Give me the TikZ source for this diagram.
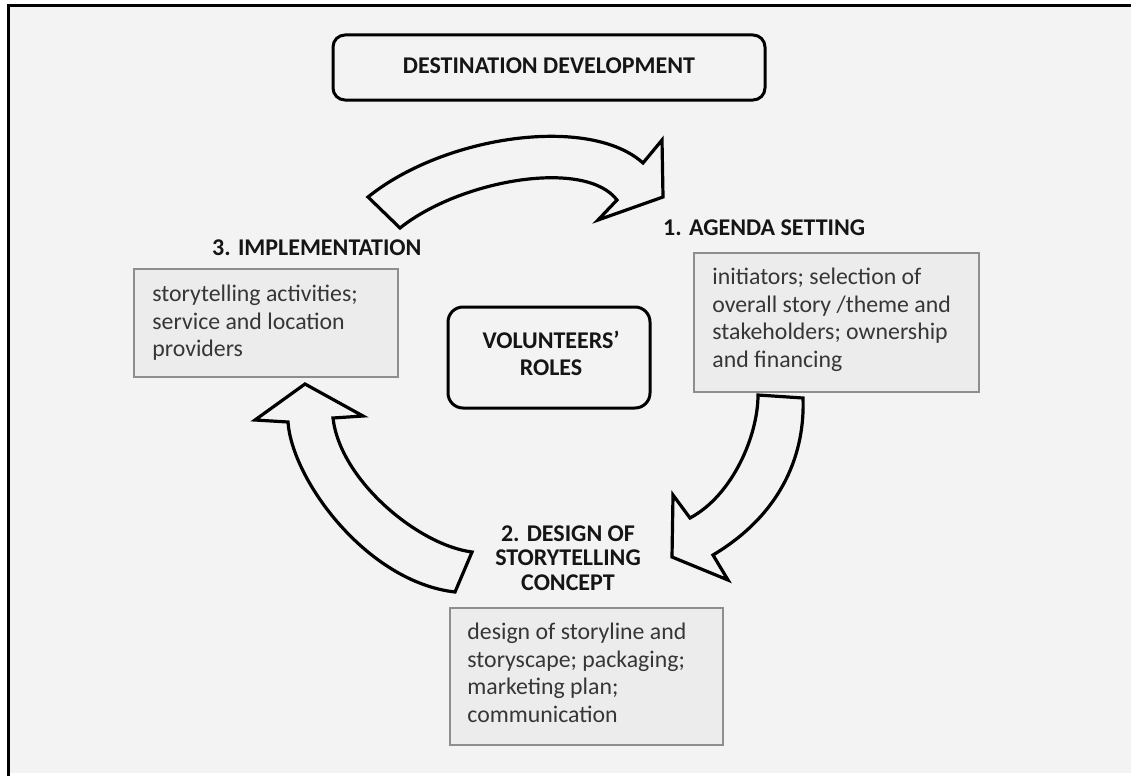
\documentclass[tikz,border=0pt]{standalone}
\usepackage{fontspec}
\setmainfont{Carlito}
\definecolor{bgc}{HTML}{F3F3F3}
\definecolor{boxfill}{HTML}{ECECEC}
\definecolor{boxline}{HTML}{8E8E8E}
\definecolor{bodytext}{HTML}{363636}
\definecolor{headtext}{HTML}{151515}
\begin{document}
\begin{tikzpicture}[x=1pt,y=-1pt,
  framebox/.style={rounded corners=12pt,line width=3pt,draw=black,fill=bgc},
  infobox/.style={draw=boxline,line width=1.6pt,fill=boxfill,inner sep=0pt},
  blockarrow/.style={draw=black,line width=3.2pt,fill=bgc,line join=miter,miter limit=10},
  heading/.style={font=\bfseries\fontsize{24}{24.5}\selectfont,text=headtext,inner sep=0pt,align=center},
  bodytxt/.style={font=\fontsize{23.8}{27.5}\selectfont,text=bodytext,inner sep=0pt,align=left,anchor=north west}
]
\useasboundingbox (0,0) rectangle (1131,776);
\fill[white] (0,0) rectangle (1131,776);
\fill[bgc] (8,6) rectangle (1131,773);
\draw[line width=3pt] (8,776) -- (8,6) -- (1131,6);

% title box
\node[framebox,minimum width=432pt,minimum height=65pt] (dd) at (549,67.5) {};
\node[heading] (ddt) at (549,66) {DESTINATION DEVELOPMENT};

% centre box
\node[framebox,rounded corners=15pt,minimum width=202pt,minimum height=101pt] (vr) at (549,357.5) {};
\node[heading,font=\bfseries\fontsize{24}{27}\selectfont] (vrt) at (551,353.5) {VOLUNTEERS'\\ROLES};

% info boxes
\node[infobox,minimum width=285pt,minimum height=139pt] (b1) at (836.5,322.5) {};
\node[bodytxt] (b1t) at ([shift={(19,13)}]b1.north west) {\strut initiators; selection of\\overall story /theme and\\stakeholders; ownership\\and financing};

\node[infobox,minimum width=273pt,minimum height=137pt] (b2) at (586.5,676.5) {};
\node[bodytxt] (b2t) at ([shift={(18,13)}]b2.north west) {\strut design of storyline and\\storyscape; packaging;\\marketing plan;\\communication};

\node[infobox,minimum width=264pt,minimum height=108pt] (b3) at (266,323) {};
\node[bodytxt] (b3t) at ([shift={(19,14)}]b3.north west) {\strut storytelling activities;\\service and location\\providers};

% stage headings
\node[heading,anchor=west] (h1) at (663,228) {1. AGENDA SETTING};
\node[heading] (h2) at (568,558) {2. DESIGN OF\\STORYTELLING\\CONCEPT};
\node[heading,anchor=west] (h3) at (212,248) {3. IMPLEMENTATION};

% block arrows
\draw[blockarrow] (368,197) .. controls (445,135) and (590,115) .. (643,163)
  -- (662,140) -- (663,197) -- (598,220) -- (617,200)
  .. controls (585,158) and (460,180) .. (400,228) -- cycle;
\draw[blockarrow] (758,395) -- (803,398) .. controls (805,450) and (785,512) .. (713,555)
  -- (728,580) -- (672,557) -- (673,495) -- (690,518)
  .. controls (733,495) and (758,435) .. (758,395) -- cycle;
\draw[blockarrow] (455,592) -- (472,552) .. controls (418,545) and (340,480) .. (333,418)
  -- (363,416) -- (305,384) -- (255,420) -- (288,422)
  .. controls (292,480) and (367,582) .. (455,592) -- cycle;
\end{tikzpicture}
\end{document}
